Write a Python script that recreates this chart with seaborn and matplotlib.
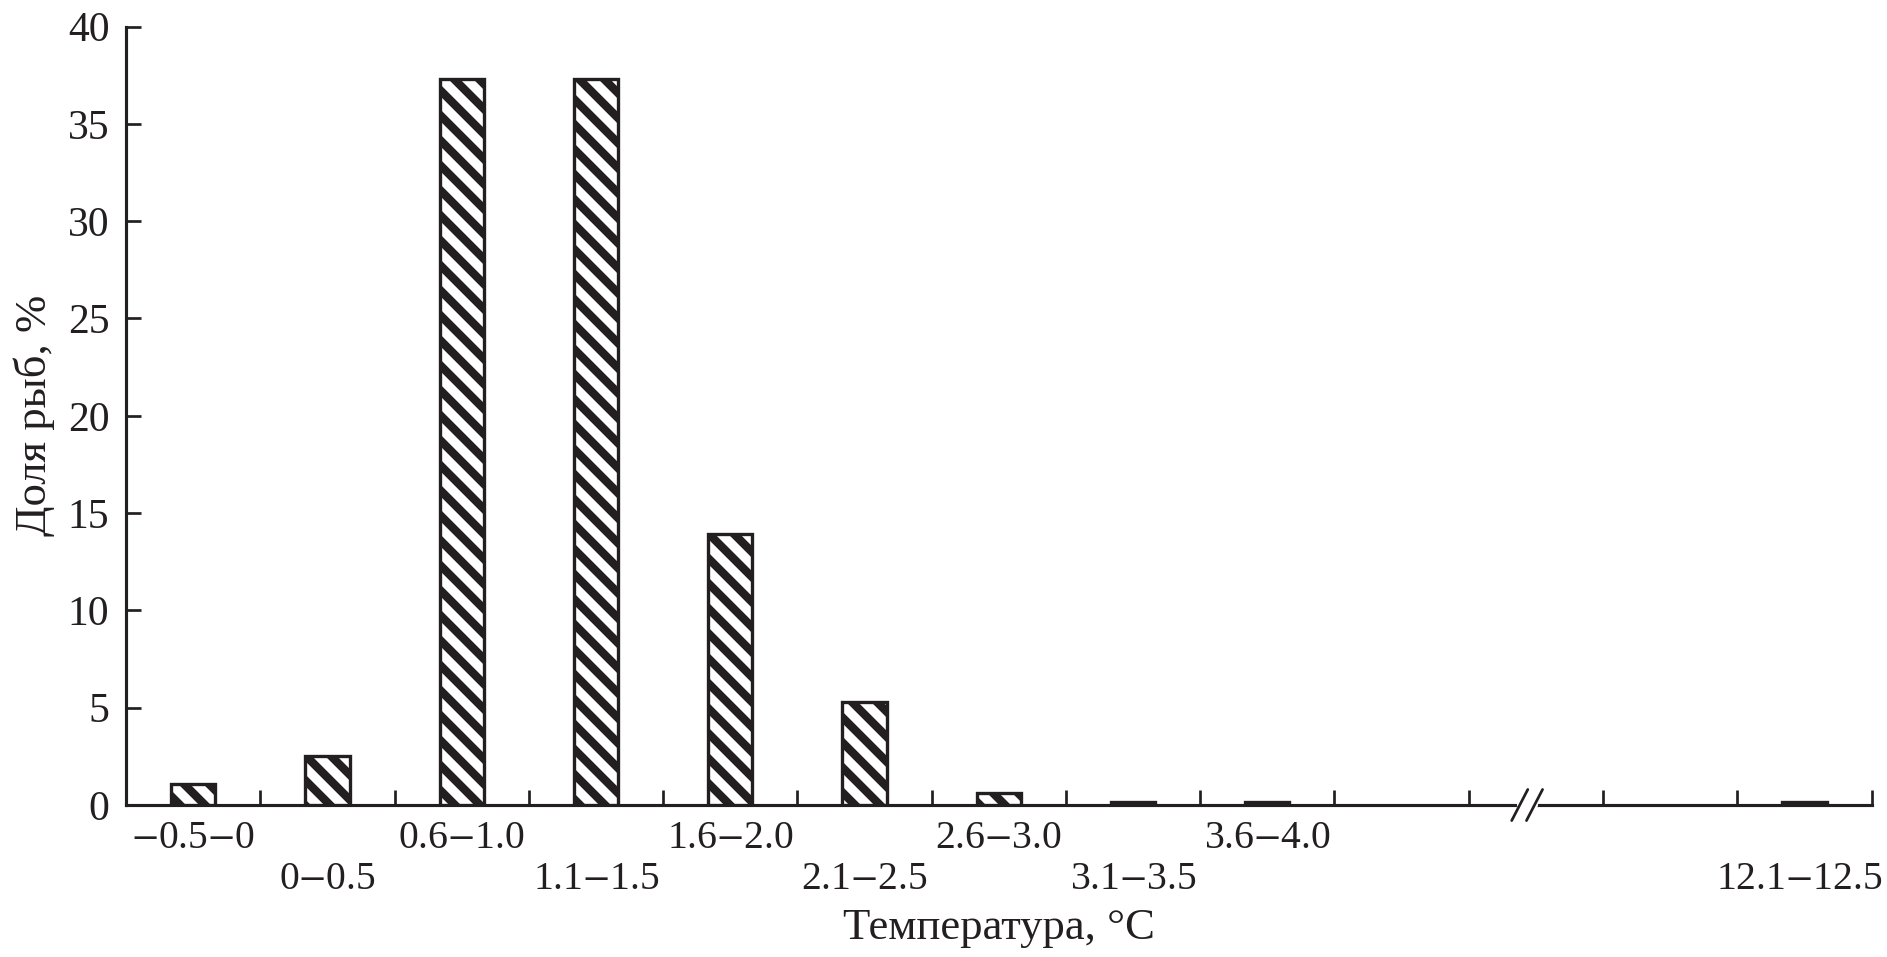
import matplotlib
matplotlib.use("Agg")
import matplotlib.pyplot as plt
import matplotlib.transforms as mtransforms
import pandas as pd
import seaborn as sns

# Temperature classes (13 slots on the axis, three of them empty around the break)
slots = ["-0.5–0", "0–0.5", "0.6–1.0", "1.1–1.5", "1.6–2.0", "2.1–2.5",
         "2.6–3.0", "3.1–3.5", "3.6–4.0", "gap1", "gap2", "gap3", "12.1–12.5"]
tick_labels = ["$-$0.5$-$0", "\n0$-$0.5", "0.6$-$1.0", "\n1.1$-$1.5",
               "1.6$-$2.0", "\n2.1$-$2.5", "2.6$-$3.0", "\n3.1$-$3.5",
               "3.6$-$4.0", "", "", "", "\n12.1$-$12.5"]
share = [1.1, 2.5, 37.3, 37.3, 13.9, 5.3, 0.6, 0.15, 0.15,
         None, None, None, 0.15]

df = pd.DataFrame({"temp": slots, "share": share}).dropna()

INK = "#231f20"

sns.set_theme(style="ticks")
plt.rcParams["font.family"] = ["Liberation Serif", "DejaVu Serif"]
plt.rcParams["mathtext.fontset"] = "stix"
plt.rcParams["hatch.linewidth"] = 4.0
plt.rcParams["text.color"] = INK
plt.rcParams["xtick.color"] = INK
plt.rcParams["ytick.color"] = INK
plt.rcParams["axes.labelcolor"] = INK

fig = plt.figure(figsize=(1887 / 150, 957 / 150), dpi=150)
ax = fig.add_axes([0.0668, 0.1588, 0.925, 0.8135])

sns.barplot(data=df, x="temp", y="share", order=slots, width=0.33,
            color="white", edgecolor=INK, linewidth=1.6,
            saturation=1, ax=ax, zorder=3)
for p in ax.patches:
    p.set_hatch("\\\\")

ax.set_xlim(-0.5, 12.5)
ax.set_ylim(0, 40)
ax.set_yticks(range(0, 41, 5))
ax.set_xticks(range(len(slots)))
ax.set_xticklabels(tick_labels, linespacing=1.15)
ax.set_xticks([i + 0.5 for i in range(len(slots))], minor=True)

ax.tick_params(axis="x", which="major", length=0, pad=7, labelsize=19)
ax.tick_params(axis="x", which="minor", direction="in", length=7, width=1.3)
ax.tick_params(axis="y", direction="in", length=7, width=1.3, pad=8,
               labelsize=20)

# last label sits a touch left of its bar in the reference
last = ax.get_xticklabels()[-1]
last.set_transform(last.get_transform() +
                   mtransforms.ScaledTranslation(-5 / 150, 0, fig.dpi_scale_trans))

for side in ("top", "right"):
    ax.spines[side].set_visible(False)
for side in ("left", "bottom"):
    ax.spines[side].set_linewidth(1.5)
    ax.spines[side].set_color(INK)

ax.set_xlabel("Температура, °C", fontsize=21.5, labelpad=5)
ax.set_ylabel("Доля рыб, %", fontsize=21.5, labelpad=6)

# axis break mark "//"
tr = ax.get_xaxis_transform()
ax.plot([9.88, 9.99], [0, 0], transform=tr, color="white", lw=3,
        clip_on=False, zorder=5)
for x0 in (9.82, 9.93):
    ax.plot([x0, x0 + 0.12], [-0.02, 0.02], transform=tr, color=INK,
            lw=1.3, clip_on=False, zorder=6)

fig.savefig("out.png", dpi=150)
